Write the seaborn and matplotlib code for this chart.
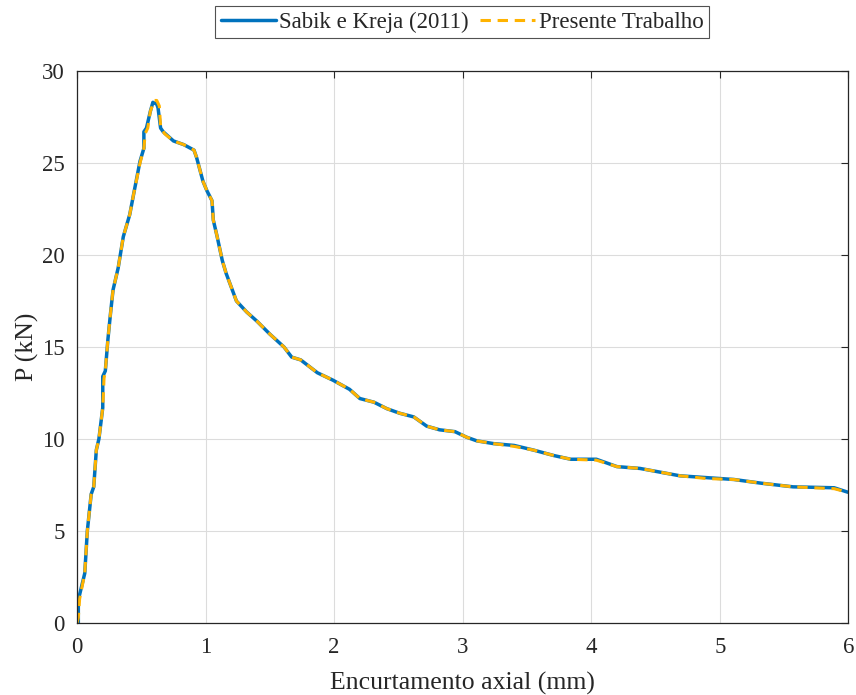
import matplotlib
matplotlib.use("Agg")
import matplotlib.pyplot as plt
import seaborn as sns
import pandas as pd

# Sabik e Kreja (2011)
x_ref = [0.0, 0.01, 0.01, 0.06, 0.08, 0.11, 0.13, 0.15, 0.17, 0.20, 0.20, 0.22, 0.24, 0.26, 0.28,
         0.32, 0.36, 0.41, 0.44, 0.49, 0.52, 0.52, 0.54, 0.57, 0.59, 0.62, 0.63, 0.65, 0.67, 0.75,
         0.83, 0.91, 0.93, 0.98, 1.01, 1.05, 1.06, 1.09, 1.13, 1.16, 1.20, 1.24, 1.32, 1.40, 1.50,
         1.61, 1.67, 1.74, 1.87, 1.99, 2.12, 2.20, 2.31, 2.41, 2.51, 2.62, 2.72, 2.82, 2.94, 3.03,
         3.11, 3.24, 3.40, 3.55, 3.71, 3.84, 4.04, 4.20, 4.38, 4.69, 4.90, 5.11, 5.32, 5.57, 5.89, 6.0]
y_ref = [0.0, 0.0, 1.25, 2.7, 5.0, 7.0, 7.4, 9.4, 10.0, 11.7, 13.4, 13.7, 15.4, 16.8, 18.1,
         19.3, 21.0, 22.2, 23.3, 25.1, 25.8, 26.7, 26.9, 27.8, 28.3, 28.2, 28.0, 26.9, 26.7, 26.2,
         26.0, 25.7, 25.3, 24.0, 23.5, 22.95, 21.9, 21.0, 19.7, 19.0, 18.25, 17.5, 16.9, 16.4, 15.7,
         15.0, 14.45, 14.3, 13.6, 13.2, 12.7, 12.2, 12.0, 11.65, 11.4, 11.2, 10.7, 10.5, 10.4, 10.1,
         9.9, 9.75, 9.65, 9.4, 9.1, 8.9, 8.9, 8.5, 8.4, 8.0, 7.9, 7.8, 7.6, 7.4, 7.35, 7.1]

# Presente Trabalho
x_pt = [0.0, 0.01, 0.02, 0.06, 0.08, 0.11, 0.13, 0.15, 0.17, 0.20, 0.21, 0.22, 0.24, 0.26, 0.28,
        0.32, 0.36, 0.41, 0.44, 0.49, 0.52, 0.53, 0.55, 0.57, 0.60, 0.62, 0.64, 0.65, 0.68, 0.75,
        0.83, 0.91, 0.93, 0.98, 1.01, 1.05, 1.06, 1.09, 1.13, 1.16, 1.20, 1.24, 1.32, 1.40, 1.50,
        1.61, 1.67, 1.74, 1.87, 1.99, 2.12, 2.20, 2.31, 2.41, 2.51, 2.62, 2.72, 2.82, 2.94, 3.03,
        3.11, 3.24, 3.40, 3.55, 3.71, 3.84, 4.04, 4.20, 4.38, 4.69, 4.90, 5.11, 5.32, 5.57, 5.89, 6.0]
y_pt = [0.0, 0.3, 1.3, 2.7, 5.0, 7.0, 7.4, 9.4, 10.0, 11.7, 13.3, 13.7, 15.4, 16.8, 18.1,
        19.3, 21.0, 22.2, 23.3, 25.0, 25.8, 26.6, 26.9, 27.8, 28.4, 28.4, 28.1, 27.0, 26.6, 26.2,
        26.0, 25.7, 25.3, 24.0, 23.5, 22.95, 21.9, 21.0, 19.7, 19.0, 18.25, 17.5, 16.9, 16.4, 15.7,
        15.0, 14.45, 14.3, 13.6, 13.2, 12.7, 12.2, 12.0, 11.65, 11.4, 11.2, 10.7, 10.5, 10.4, 10.1,
        9.9, 9.75, 9.6, 9.4, 9.1, 8.9, 8.85, 8.5, 8.4, 8.0, 7.85, 7.8, 7.6, 7.4, 7.3, 7.1]

labels = ["Sabik e Kreja (2011)", "Presente Trabalho"]
x_ticks = [0, 1, 2, 3, 4, 5, 6]
y_ticks = [0, 5, 10, 15, 20, 25, 30]

sns.set_style("white")
plt.rcParams["font.family"] = ["Liberation Serif", "DejaVu Serif"]

fig = plt.figure(figsize=(8.56, 6.95), dpi=100)
ax = fig.add_axes([0.090, 0.1036, 0.901, 0.7942])

df1 = pd.DataFrame({"x": x_ref, "y": y_ref})
df2 = pd.DataFrame({"x": x_pt, "y": y_pt})
sns.lineplot(data=df1, x="x", y="y", ax=ax, sort=False, estimator=None,
             color="#0072BD", linewidth=2.5, label=labels[0])
sns.lineplot(data=df2, x="x", y="y", ax=ax, sort=False, estimator=None,
             color="#FFB300", linewidth=2.2, linestyle=(0, (3.4, 2.2)), label=labels[1])

ax.set_xlim(0, 6)
ax.set_ylim(0, 30)
ax.set_xticks(x_ticks)
ax.set_yticks(y_ticks)
ax.set_xticklabels([str(t) for t in x_ticks])
ax.set_yticklabels([str(t) for t in y_ticks])
ax.grid(True, color="#DCDCDC", linewidth=0.8)
ax.tick_params(direction="in", length=5, width=0.8, colors="#262626", labelsize=16.5,
               top=True, right=True, labelcolor="#262626")
ax.tick_params(axis="x", pad=10)
ax.tick_params(axis="y", pad=9)
for s in ax.spines.values():
    s.set_visible(True)
    s.set_color("#262626")
    s.set_linewidth(0.9)
ax.set_xlabel("Encurtamento axial (mm)", fontsize=18.5, color="#262626", labelpad=10)
ax.set_ylabel("P (kN)", fontsize=18.5, color="#262626", labelpad=2)

leg = ax.legend(loc="center", ncol=2, frameon=True,
                fontsize=16.5, handlelength=2.4, handletextpad=0.15, columnspacing=0.5,
                borderpad=0.25, borderaxespad=0, fancybox=False, edgecolor="#262626")
leg.set_bbox_to_anchor((462 / 856, (695 - 22) / 695), transform=fig.transFigure)
leg.get_frame().set_linewidth(0.8)

fig.savefig("out.png", dpi=100, facecolor="white")
